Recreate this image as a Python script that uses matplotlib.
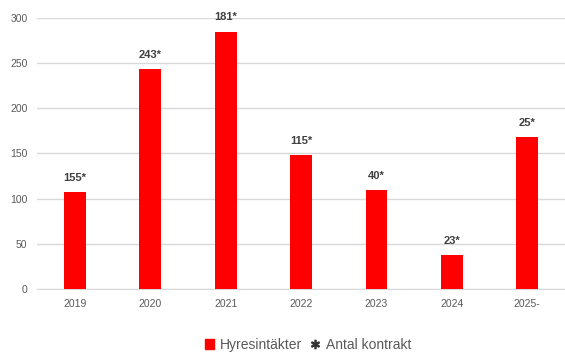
import matplotlib.pyplot as plt
from matplotlib.patches import Patch
from matplotlib.lines import Line2D

years = ['2019', '2020', '2021', '2022', '2023', '2024', '2025-']
hyresintakter = [107, 244, 285, 148, 110, 38, 168]
kontrakt = ['155*', '243*', '181*', '115*', '40*', '23*', '25*']

plt.rcParams['font.family'] = ['Liberation Sans', 'DejaVu Sans']

fig = plt.figure(figsize=(5.65, 3.52), dpi=100)
ax = fig.add_axes([0.066, 0.179, 0.934, 0.770])

x = range(len(years))
bars = ax.bar(x, hyresintakter, width=0.29, color='#ff0000', zorder=3)

for b, lab in zip(bars, kontrakt):
    ax.text(b.get_x() + b.get_width() / 2, b.get_height() + 10, lab,
            ha='center', va='bottom', fontsize=8, fontweight='bold', color='#404040')

ax.set_xlim(-0.5, len(years) - 0.5)
ax.set_ylim(0, 300)
ax.set_yticks([0, 50, 100, 150, 200, 250, 300])
ax.set_xticks(list(x))
ax.set_xticklabels(years)
ax.grid(axis='y', color='#d9d9d9', linewidth=1, zorder=0)
for s in ['top', 'right', 'left']:
    ax.spines[s].set_visible(False)
ax.spines['bottom'].set_color('#d9d9d9')
ax.tick_params(length=0, labelsize=7.5, colors='#595959', pad=7)

handles = [Patch(color='#ff0000'),
           Line2D([], [], marker='$\\ast$', color='#333333', linestyle='none', markersize=6)]
fig.legend(handles, ['Hyresintäkter', 'Antal kontrakt'], loc='lower center',
           bbox_to_anchor=(0.545, -0.035), ncol=2, frameon=False, fontsize=10,
           handlelength=0.7, handleheight=0.7, handletextpad=0.4, columnspacing=0.6,
           labelcolor='#595959')

fig.savefig('out.png', dpi=100)
